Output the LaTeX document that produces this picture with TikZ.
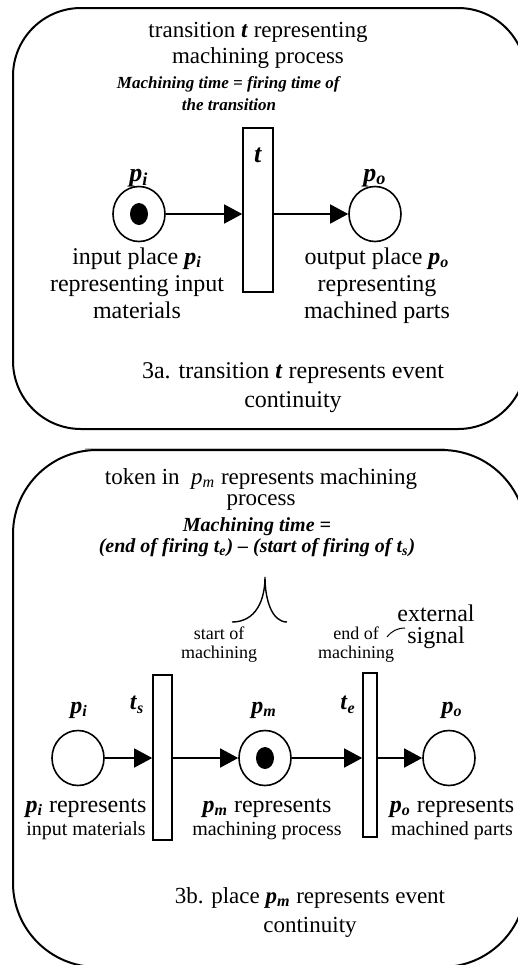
\documentclass[tikz,border=0pt]{standalone}
\usepackage{fontspec}
\setmainfont{Liberation Serif}
\usetikzlibrary{arrows.meta,shapes.geometric}

\newcommand{\bi}[1]{\textbf{\textit{#1}}}
\newcommand{\plc}[1]{\bi{p}\textsubscript{\bi{#1}}}

\tikzset{
  place/.style={draw,ellipse,line width=0.8pt,minimum width=26pt,minimum height=27.5pt,inner sep=0pt},
  token/.style={fill,ellipse,minimum width=9pt,minimum height=11pt,inner sep=0pt},
  trans/.style={draw,rectangle,line width=0.8pt,inner sep=0pt},
  arc/.style={line width=0.7pt,-{Triangle[length=9pt,width=9.5pt]}},
  panel/.style={line width=1pt},
  txt/.style={align=center,inner sep=0pt,anchor=base,font=\fontsize{12}{13.5}\selectfont},
  note/.style={align=center,inner sep=0pt,anchor=base,font=\fontsize{10}{11.5}\selectfont},
  lbl/.style={inner sep=0pt,font=\fontsize{13}{15}\selectfont},
}

\begin{document}
\begin{tikzpicture}[x=0.5pt,y=-0.5pt]
\useasboundingbox (0,0) rectangle (518,965);
\clip (0,0) rectangle (518,965);

% panel 3a
\draw[panel,rounded corners=34pt] (13,8) rectangle (526,429);
\node[txt,font=\fontsize{11.5}{13}\selectfont] (headA) at (258,63) {transition \bi{t} representing\\machining process};
\node[txt,font=\fontsize{8.5}{11}\selectfont] (timeA) at (229,110) {\bi{Machining time = firing time of}\\\bi{the transition}};

\node[place] (piA) at (139,214) {};
\node[token] (tokA) at (piA.center) {};
\node[trans,minimum width=15pt,minimum height=82pt] (tA) at (258,210) {};
\node[place] (poA) at (375,214) {};
\node[lbl] (piAl) at (139,178) {\plc{i}};
\node[lbl] (tAl) at (258,155) {\bi{t}};
\node[lbl] (poAl) at (375,178) {\plc{o}};

\draw[arc] (piA) -- (piA -| tA.west);
\draw[arc] (poA -| tA.east) -- (poA);

\node[txt] (inA) at (137,318) {input place \plc{i}\\representing input\\materials};
\node[txt] (outA) at (377,318) {output place \plc{o}\\representing\\machined parts};
\node[txt,font=\fontsize{12}{14.5}\selectfont] (capA) at (293,407) {3a. transition \bi{t} represents event\\continuity};

\draw[gray!50,line width=0.6pt] (85,449) -- (445,449);

% panel 3b
\draw[panel,rounded corners=42pt] (13,450) rectangle (526,967);
\node[txt,font=\fontsize{11.5}{10.5}\selectfont] (headB) at (261,505) {token in\ \ \textit{p}\textsubscript{\textit{m}} represents machining\\process};
\node[txt,font=\fontsize{10}{9}\selectfont] (timeB) at (257,552) {\bi{Machining time =}\\\bi{(end of firing t\textsubscript{e}) -- (start of firing of t\textsubscript{s})}};
\draw[line width=0.7pt] (232,622) .. controls (256,622) and (265,600) .. (265,577)
  .. controls (265,600) and (272,622) .. (287,622);

\node[note,font=\fontsize{9}{9.5}\selectfont] (startB) at (219,658) {start of\\machining};
\node[note,font=\fontsize{9}{9.5}\selectfont] (endB) at (356,658) {end of\\machining};
\node[note,font=\fontsize{12}{11}\selectfont] (sigB) at (436,643) {external\\signal};
\draw[line width=0.5pt] (387,637) to[bend left=25] (405,628);

\node[place] (piB) at (78,758) {};
\node[trans,minimum width=9.5pt,minimum height=82.5pt] (tsB) at (162.5,757.5) {};
\node[place] (pmB) at (265,758) {};
\node[token] (tokB) at (pmB.center) {};
\node[trans,minimum width=7pt,minimum height=82pt] (teB) at (370,755) {};
\node[place] (poB) at (449,758) {};

\node[lbl,font=\fontsize{12}{14}\selectfont] (piBl) at (79,710) {\plc{i}};
\node[lbl,font=\fontsize{12}{14}\selectfont] (tsBl) at (137,705) {\bi{t}\textsubscript{\bi{s}}};
\node[lbl,font=\fontsize{12}{14}\selectfont] (pmBl) at (264,710) {\plc{m}};
\node[lbl,font=\fontsize{12}{14}\selectfont] (teBl) at (348,705) {\bi{t}\textsubscript{\bi{e}}};
\node[lbl,font=\fontsize{12}{14}\selectfont] (poBl) at (452,710) {\plc{o}};

\draw[arc] (piB) -- (piB -| tsB.west);
\draw[arc] (pmB -| tsB.east) -- (pmB);
\draw[arc] (pmB) -- (pmB -| teB.west);
\draw[arc] (poB -| teB.east) -- (poB);

\node[note] (inB) at (86,835) {{\fontsize{12}{11.5}\selectfont\plc{i} represents}\\input materials};
\node[note] (mB) at (267,835) {{\fontsize{12}{11.5}\selectfont\plc{m} represents}\\machining process};
\node[note] (outB) at (452,835) {{\fontsize{12}{11.5}\selectfont\plc{o} represents}\\machined parts};
\node[txt,font=\fontsize{11.5}{14.5}\selectfont] (capB) at (310,932) {3b. place \plc{m} represents event\\continuity};
\end{tikzpicture}
\end{document}
